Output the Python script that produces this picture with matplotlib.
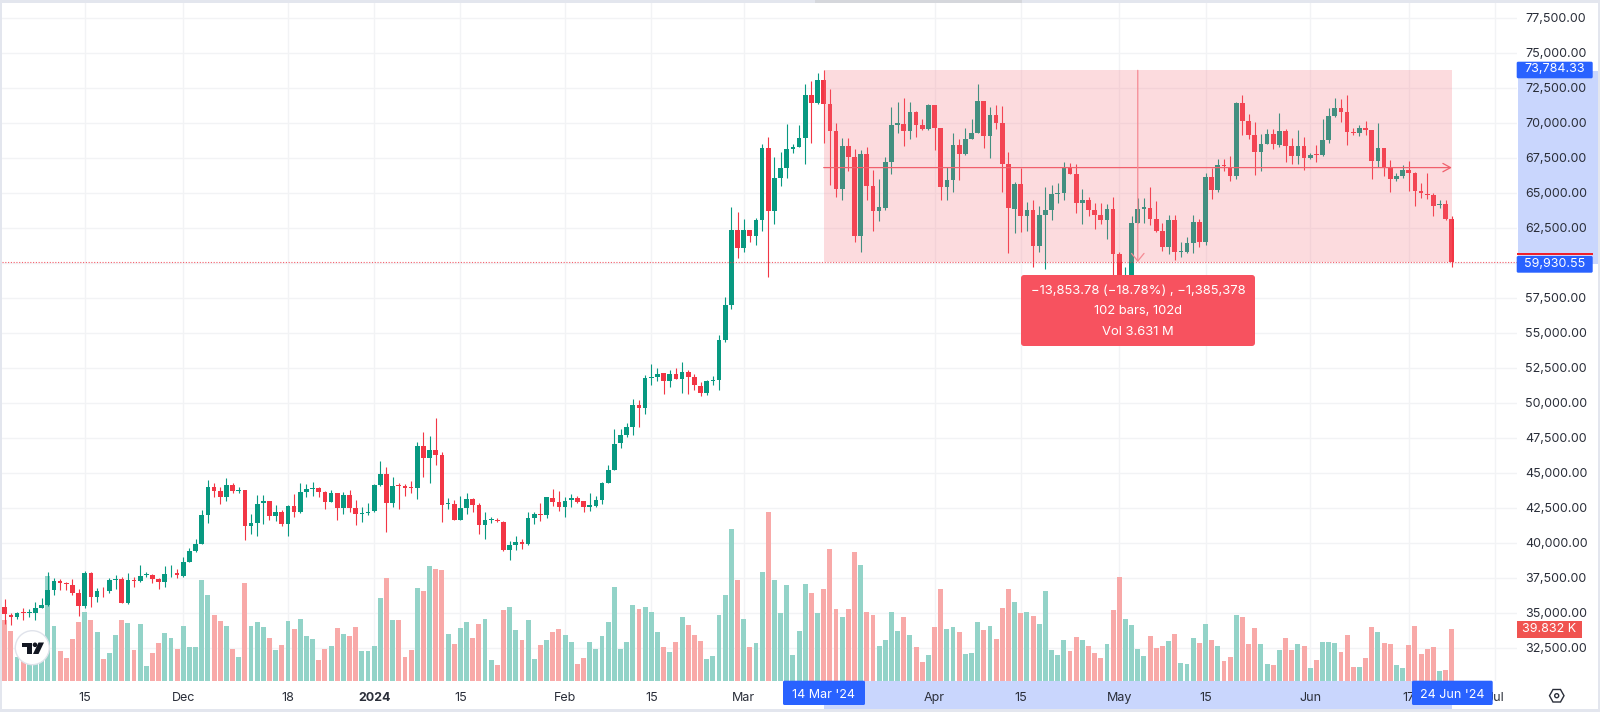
import matplotlib
matplotlib.use('Agg')
import matplotlib.pyplot as plt
from matplotlib.patches import Rectangle, FancyBboxPatch, Circle, Polygon
from matplotlib.transforms import ScaledTranslation
import numpy as np

# daily candles, 2 Nov 2023 - 24 Jun 2024
opens = [35430, 34910, 34720, 35100, 35000, 35030, 35410, 35600, 36690, 37310, 37140, 37050, 36450, 35500, 37880, 36190,
         36690, 36570, 37360, 37450, 35720, 37380, 37310, 37740, 37760, 37450, 37260, 37860, 37880, 37670, 38670, 39430,
         39950, 42000, 44050, 43760, 43290, 44170, 43720, 43790, 41240, 41480, 42860, 43050, 41930, 42240, 41360, 42670,
         42260, 43670, 43910, 43930, 43670, 42980, 43570, 42530, 43450, 42550, 42100, 42150, 42290, 44170, 44960, 42860,
         44170, 44120, 44000, 43930, 46960, 46100, 46670, 46340, 42840, 42840, 41670, 42500, 43150, 42770, 41310, 41670,
         41650, 41550, 39530, 39890, 40100, 39960, 41810, 42100, 42050, 43270, 42930, 42600, 43080, 43220, 43000, 42620,
         42690, 43100, 44340, 45270, 47130, 47740, 48310, 49910, 49690, 51810, 51860, 52140, 51620, 52120, 51740, 52240,
         51860, 51260, 50720, 51600, 51690, 54530, 57030, 62410, 61120, 62390, 61980, 63100, 68240, 63740, 66100, 66810,
         68150, 68310, 68930, 72050, 71430, 73070, 71380, 69480, 65310, 68380, 67620, 61960, 67840, 65500, 63770, 63980,
         67220, 69880, 69980, 69450, 70790, 69880, 69570, 71290, 69640, 65460, 65960, 68480, 67790, 68900, 69340, 71600,
         69100, 70620, 70000, 67100, 63910, 65650, 63390, 63790, 61240, 63480, 63810, 64960, 65000, 66840, 66380, 64290,
         64530, 63790, 63460, 63100, 63860, 60670, 58300, 59100, 62910, 63880, 63980, 63150, 62310, 61170, 63100, 60840,
         60790, 61460, 62930, 61550, 66190, 65220, 67030, 66910, 66260, 71450, 70140, 69170, 67950, 68530, 69240, 68480,
         69430, 68380, 67670, 68380, 67550, 67790, 67740, 68810, 70530, 71100, 70810, 69380, 69290, 69670, 69550, 67290,
         68260, 66840, 66030, 66240, 66670, 66480, 65170, 64980, 64880, 64150, 64240, 63190]
highs = [36000, 35050, 35120, 35380, 35290, 35830, 36070, 37980, 37520, 37430, 37210, 37430, 36720, 38000, 37980, 36790,
         36900, 37500, 37740, 37620, 37860, 37620, 38430, 37980, 37810, 37500, 38380, 38430, 38170, 39000, 39690, 40290,
         42380, 44520, 44290, 44000, 44640, 44330, 44050, 43810, 42100, 43480, 43450, 43050, 42740, 42380, 42720, 43520,
         44290, 44240, 44410, 44000, 43760, 43810, 43620, 43640, 43810, 43100, 42580, 42860, 44220, 45910, 45480, 44720,
         44340, 44240, 44480, 47220, 47980, 47670, 48980, 46500, 43240, 43100, 43390, 43580, 43220, 42860, 42200, 41910,
         41840, 41620, 40170, 40530, 40290, 42270, 42200, 42860, 43340, 43860, 43740, 43290, 43500, 43390, 43050, 43580,
         43390, 44410, 45600, 48190, 48190, 48570, 50310, 50240, 52020, 52810, 52550, 52140, 52380, 52500, 52980, 52380,
         52070, 51550, 51670, 51950, 54870, 57580, 64030, 63670, 63150, 62390, 63240, 68500, 69000, 67620, 67980, 69980,
         68530, 69880, 72810, 73020, 73620, 73784, 72450, 70050, 68930, 68930, 68150, 68100, 68290, 66670, 66030, 67620,
         71140, 71550, 71790, 71550, 70910, 70290, 71380, 71290, 69670, 66910, 69290, 68860, 69640, 70310, 72810, 71600,
         71190, 71310, 71240, 67930, 65840, 66840, 64360, 64530, 64120, 65480, 65600, 65720, 67220, 67190, 67100, 65290,
         64770, 64340, 64340, 64240, 64770, 60840, 59770, 63380, 64650, 64650, 65480, 64460, 62860, 63430, 63480, 61550,
         61910, 63460, 63150, 66480, 66790, 67450, 67430, 67690, 71500, 72000, 70640, 70070, 69240, 69570, 69570, 70720,
         69570, 68930, 69500, 69030, 67860, 68450, 70310, 71070, 71810, 71720, 72000, 69640, 69880, 70190, 69550, 70000,
         68260, 67380, 66480, 67030, 67310, 66550, 65720, 66480, 65050, 64530, 64530, 63380]
lows = [34240, 34170, 34570, 34530, 34720, 34530, 35360, 35530, 36310, 36670, 36670, 36310, 34810, 35380, 35480, 35830,
        36190, 36430, 36720, 35720, 35670, 36900, 37210, 37570, 37190, 36740, 36900, 37570, 37500, 37620, 38640, 39360,
        39930, 41430, 43330, 42810, 43050, 43570, 43570, 40240, 40670, 40550, 41380, 41670, 41620, 41260, 40550, 41860,
        42190, 43310, 43380, 43290, 42480, 42930, 41670, 42070, 42260, 41310, 41550, 42030, 42270, 44120, 40790, 42620,
        42460, 43410, 43580, 43170, 44770, 44340, 45600, 41530, 42480, 41650, 41650, 42100, 42220, 40670, 40290, 41480,
        41530, 39480, 38820, 39530, 39580, 39860, 41410, 41620, 41840, 42690, 42290, 41910, 42600, 42910, 42270, 42290,
        42620, 42840, 44290, 45240, 46840, 47570, 47740, 48310, 49240, 51310, 51620, 50640, 51190, 51720, 50760, 50640,
        50950, 50530, 50600, 51310, 50950, 54400, 56740, 60390, 60790, 61550, 61310, 62310, 59050, 62810, 65550, 66100,
        67860, 68290, 67070, 68620, 71360, 68570, 65600, 64770, 64550, 66600, 61550, 60790, 64530, 62290, 63030, 63810,
        66380, 69290, 68380, 68910, 69030, 69550, 69550, 68100, 64550, 64530, 65070, 65960, 67760, 68860, 69290, 68240,
        67530, 69570, 65100, 60700, 62150, 62270, 62310, 59720, 60840, 59620, 63100, 64290, 64530, 66350, 63620, 62810,
        63390, 62430, 62810, 61770, 58820, 56500, 56900, 58800, 62860, 62860, 62740, 62270, 60910, 60650, 60200, 60480,
        60720, 60770, 61150, 61310, 64600, 65100, 66620, 65880, 66030, 69170, 68860, 66310, 66620, 68500, 68170, 68290,
        67260, 67100, 67120, 66690, 67480, 67260, 67650, 68620, 70430, 70120, 68450, 69190, 69120, 69170, 66050, 66860,
        66240, 65070, 65880, 66070, 65170, 64100, 64670, 64580, 63390, 63980, 63100, 59760]
closes = [34930, 34760, 35030, 35050, 35070, 35410, 35620, 36690, 37310, 37140, 37100, 36450, 35550, 37880, 36190, 36600,
          36640, 37360, 37480, 35740, 37380, 37310, 37690, 37790, 37480, 37260, 37810, 37900, 37710, 38670, 39430, 39950,
          42000, 44050, 43760, 43290, 44170, 43720, 43810, 41240, 41480, 42830, 43030, 41930, 42260, 41360, 42670, 42260,
          43670, 43910, 43950, 43690, 42980, 43570, 42530, 43450, 42530, 42070, 42150, 42270, 44170, 44960, 42860, 44120,
          44120, 43980, 43960, 46960, 46100, 46670, 46310, 42740, 42890, 41670, 42500, 43150, 42740, 41310, 41650, 41740,
          41580, 39530, 39890, 40100, 39980, 41810, 42120, 42050, 43290, 42930, 42600, 43050, 43220, 42960, 42620, 42720,
          43100, 44340, 45270, 47120, 47740, 48310, 49910, 49690, 51810, 51860, 52120, 51620, 52120, 51740, 52240, 51860,
          51290, 50760, 51600, 51690, 54500, 57030, 62410, 61120, 62390, 61980, 63120, 68240, 63740, 66100, 66810, 68150,
          68310, 68930, 72050, 71430, 73070, 71380, 69480, 65310, 68380, 67600, 61960, 67840, 65500, 63770, 64000, 67220,
          69880, 70000, 69450, 70790, 69860, 69570, 71290, 69640, 65460, 65960, 68480, 67790, 68910, 69340, 71600, 69100,
          70620, 70000, 67100, 63930, 65670, 63390, 63790, 61240, 63480, 63810, 64960, 65000, 66840, 66380, 64290, 64530,
          63790, 63460, 63100, 63860, 60670, 58300, 59100, 62910, 63880, 64000, 63150, 62310, 61170, 63100, 60840, 60890,
          61460, 62930, 61550, 66190, 65240, 67030, 66950, 66260, 71450, 70140, 69170, 67950, 68530, 69260, 68500, 69450,
          68380, 67670, 68380, 67550, 67740, 67740, 68810, 70530, 71100, 70810, 69360, 69340, 69670, 69530, 67290, 68260,
          66840, 66030, 66240, 66670, 66480, 65170, 65000, 64880, 64120, 64270, 63150, 60090]
# volume in thousands
volumes = [47.2, 38.7, 18.1, 18.1, 16.8, 18.1, 18.1, 81.3, 42.6, 22.7, 17.5, 32.3, 45.2, 52.9, 47.2, 37.9, 17.0, 21.2,
           35.6, 47.2, 44.9, 23.5, 44.1, 11.4, 21.2, 29.4, 36.9, 32.8, 24.3, 42.6, 26.3, 26.3, 77.9, 66.6, 50.6, 46.4,
           42.3, 24.8, 18.6, 75.6, 42.3, 45.4, 41.5, 33.3, 24.0, 27.6, 46.2, 40.2, 48.2, 34.3, 32.3, 16.3, 24.8, 26.6,
           40.5, 35.9, 34.6, 41.8, 22.7, 23.2, 26.6, 64.2, 79.7, 47.2, 47.2, 18.1, 23.5, 72.2, 69.4, 89.3, 86.9, 85.7,
           36.1, 28.4, 40.5, 45.2, 33.3, 43.9, 48.2, 16.0, 12.1, 54.7, 57.3, 39.2, 31.5, 47.0, 16.5, 27.6, 31.5, 37.4,
           39.7, 35.1, 29.7, 12.6, 17.5, 29.7, 24.8, 34.3, 45.2, 73.0, 24.8, 29.9, 58.6, 55.5, 56.8, 53.4, 37.9, 26.1,
           22.2, 29.7, 49.3, 43.1, 35.1, 30.7, 16.8, 18.8, 51.1, 66.3, 117.4, 77.9, 47.7, 25.8, 29.2, 84.1, 131.1, 77.9,
           52.4, 73.8, 19.9, 38.4, 74.6, 68.1, 52.4, 71.2, 102.2, 55.5, 49.3, 55.5, 100.1, 89.5, 53.1, 51.1, 26.6, 31.5,
           53.1, 38.4, 49.0, 35.6, 25.8, 14.2, 19.9, 41.5, 71.2, 40.0, 41.5, 37.9, 20.6, 21.7, 45.4, 39.2, 42.1, 32.0,
           56.0, 71.0, 60.9, 52.4, 53.1, 50.3, 43.6, 69.4, 23.5, 19.9, 31.5, 23.0, 33.8, 31.5, 27.1, 21.2, 17.3, 28.4,
           54.7, 80.2, 47.7, 43.3, 24.5, 18.8, 34.8, 25.5, 26.6, 30.7, 36.1, 13.7, 13.2, 32.8, 29.2, 43.6, 31.5, 26.8,
           15.2, 18.6, 50.8, 49.5, 28.1, 40.5, 28.4, 12.9, 12.1, 23.5, 32.8, 23.5, 28.4, 27.1, 9.5, 15.7, 29.7, 29.7,
           29.2, 22.2, 35.6, 10.3, 10.3, 17.5, 41.5, 37.4, 29.4, 28.6, 11.9, 9.8, 27.6, 42.3, 20.6, 24.5, 26.1, 7.7,
           8.5, 39.832]

# ticks
price_ticks = np.arange(32500, 77501, 2500)
# 60,000 sits behind the last price label in the original
price_labels = ['' if p == 60000 else '{:,.2f}'.format(p) for p in price_ticks]
date_ticks = [13, 29, 46, 60, 74, 91, 105, 120, 151, 165, 181, 195, 212, 228, 242]
date_labels = ['15', 'Dec', '18', '2024', '15', 'Feb', '15', 'Mar', 'Apr', '15', 'May', '15', 'Jun', '17', 'Jul']

# long position drawing
range_start = 133
range_end = 235
range_high = 73784.33
range_low = 60090
range_mid = 66836
cross_bar = 184

GREEN = '#089981'
RED = '#F23645'
VOL_GREEN = '#93D3C8'
VOL_RED = '#F8A9A8'
BLUE = '#2962FF'
BAND = '#C9D6FD'
TEXT = '#2A2E39'
FONT = 'Inter'
AXIS_SIZE = 9.0

plt.rcParams['font.family'] = [FONT, 'DejaVu Sans']

fig = plt.figure(figsize=(16, 7.12), dpi=100, facecolor='white')
W, H = 1600.0, 712.0
left, right, top, bottom = 2.0, 1517.0, 3.0, 680.7
rect = [left / W, 1 - bottom / H, (right - left) / W, (bottom - top) / H]
xlim = ((left - 4.7) / 6.158, (right - 4.7) / 6.158)
ylim = (77500 - (bottom - 18.3) / 0.014, 77500 - (top - 18.3) / 0.014)

x = np.arange(len(opens))
opens = np.array(opens, dtype=float)
highs = np.array(highs, dtype=float)
lows = np.array(lows, dtype=float)
closes = np.array(closes, dtype=float)
up = closes >= opens
colors = np.where(up, GREEN, RED)

# layer under everything, for the selected range bands on both axes
back = fig.add_axes([0, 0, 1, 1], zorder=0)
back.set_xlim(0, W)
back.set_ylim(H, 0)
back.axis('off')
back.add_patch(Rectangle((1518, 71), 80, 193, facecolor=BAND, linewidth=0))
back.add_patch(Rectangle((823.5, 681), 628.5, 28, facecolor=BAND, linewidth=0))

# grid goes under the volume bars
ax_grid = fig.add_axes(rect, zorder=1)
ax_grid.set_xlim(xlim)
ax_grid.set_ylim(ylim)
ax_grid.set_xticks(date_ticks)
ax_grid.set_yticks(price_ticks)
ax_grid.tick_params(length=0, labelbottom=False, labelleft=False)
ax_grid.grid(True, color='#F2F3F5', linewidth=1.0)
for s in ax_grid.spines.values():
    s.set_visible(False)

# volume pane shares the x range with the candles
ax_vol = fig.add_axes(rect, zorder=1.5)
ax_vol.patch.set_visible(False)
ax_vol.bar(x, volumes, width=0.8, color=[VOL_GREEN if u else VOL_RED for u in up], linewidth=0)
ax_vol.set_xlim(xlim)
ax_vol.set_ylim(0, (bottom - top) / 1.29)
ax_vol.set_xticks([])
ax_vol.set_yticks([])
for s in ax_vol.spines.values():
    s.set_visible(False)

ax = fig.add_axes(rect, zorder=2)
ax.patch.set_visible(False)
ax.vlines(x, lows, highs, colors=colors, linewidth=0.8, zorder=3)
ax.bar(x, np.abs(closes - opens), bottom=np.minimum(opens, closes), width=0.76, color=colors, linewidth=0, zorder=3)

# pink range
ax.add_patch(Rectangle((range_start, range_low), range_end - range_start, range_high - range_low,
                       facecolor='#F7737F', alpha=0.25, linewidth=0, zorder=4))
ax.annotate('', xy=(range_end, range_mid), xytext=(range_start, range_mid), zorder=5,
            arrowprops=dict(arrowstyle='->,head_length=0.55,head_width=0.3', color='#F0606C', lw=0.9, shrinkA=0, shrinkB=0))
ax.annotate('', xy=(cross_bar, range_low), xytext=(cross_bar, range_high), zorder=5,
            arrowprops=dict(arrowstyle='->,head_length=0.55,head_width=0.45', color='#F58A93', lw=0.9, shrinkA=0, shrinkB=0))
ax.axhline(range_low, color=RED, linestyle=(0, (1, 1.5)), linewidth=0.8, alpha=0.8, zorder=5)

ax.set_xlim(xlim)
ax.set_ylim(ylim)
ax.yaxis.tick_right()
ax.set_yticks(price_ticks)
ax.set_yticklabels(price_labels)
ax.set_xticks(date_ticks)
ax.set_xticklabels(date_labels)
ax.tick_params(axis='y', length=0, pad=6, labelsize=AXIS_SIZE, labelcolor=TEXT)
ax.tick_params(axis='x', length=0, pad=8, labelsize=AXIS_SIZE, labelcolor=TEXT)
up_1px = ScaledTranslation(0, 1 / 100.0, fig.dpi_scale_trans)
for lab in ax.get_yticklabels():
    lab.set_transform(lab.get_transform() + up_1px)
for lab in ax.get_xticklabels():
    if lab.get_text() == '2024':
        lab.set_fontweight('bold')
for s in ax.spines.values():
    s.set_visible(False)

# overlay in pixel coordinates for the widgets around the chart
ui = fig.add_axes([0, 0, 1, 1], zorder=10)
ui.set_xlim(0, W)
ui.set_ylim(H, 0)
ui.axis('off')


def box(x0, y0, x1, y1, color, z=1, round_px=0):
    if round_px:
        ui.add_patch(FancyBboxPatch((x0, y0), x1 - x0, y1 - y0, boxstyle='round,pad=0,rounding_size=%g' % round_px,
                                    facecolor=color, linewidth=0, zorder=z))
    else:
        ui.add_patch(Rectangle((x0, y0), x1 - x0, y1 - y0, facecolor=color, linewidth=0, zorder=z))


# borders of the screenshot
box(0, 0, W, 2.5, '#E3E6EE')
box(0, 0, 2, H, '#E3E6EE')
box(0, 709, W, H, '#E3E6EE')
box(1598, 0, W, H, '#E3E6EE')
# popup shadow at the top
box(815, 0, 1022, 2.5, '#D5D7DC')

# price and date labels
box(1516.7, 61.7, 1592.7, 78.3, BLUE, z=2, round_px=1.5)
ui.text(1555, 69.5, '73,784.33', color='white', fontsize=AXIS_SIZE, ha='center', va='center', zorder=3)
box(1516.7, 253, 1592.7, 255, '#F0202A', z=2)
box(1516.7, 256, 1592.7, 272.7, BLUE, z=2, round_px=1.5)
ui.text(1555, 264, '59,930.55', color='white', fontsize=AXIS_SIZE, ha='center', va='center', zorder=3)
box(1516.7, 620.7, 1582, 637.7, '#F05350', z=2)
ui.text(1549.5, 629.3, '39.832 K', color='white', fontsize=AXIS_SIZE, ha='center', va='center', zorder=3)
box(783, 680.7, 865, 705, BLUE, z=2, round_px=1.5)
ui.text(824, 695, "14 Mar '24", color='white', fontsize=AXIS_SIZE, ha='center', va='center', zorder=3)
box(1412, 680.7, 1492.7, 705, BLUE, z=2, round_px=1.5)
ui.text(1452, 695, "24 Jun '24", color='white', fontsize=AXIS_SIZE, ha='center', va='center', zorder=3)

# measure tooltip
box(1021, 275, 1255, 346, '#F7525F', z=2, round_px=3)
ui.text(1138, 290.7, '\u221213,853.78 (\u221218.78%) , \u22121,385,378', color='white', fontsize=9.35, ha='center', va='center', zorder=3)
ui.text(1138, 310.7, '102 bars, 102d', color='white', fontsize=9.35, ha='center', va='center', zorder=3)
ui.text(1138, 331.7, 'Vol 3.631 M', color='white', fontsize=9.35, ha='center', va='center', zorder=3)

# logo
ui.add_patch(Circle((32.3, 647.7), 17, facecolor='white', edgecolor='#E0E3EB', linewidth=1, zorder=3))
ui.add_patch(Polygon([(21.5, 642.5), (32, 642.5), (32, 654), (27, 654), (27, 647), (21.5, 647)], facecolor='#131722', linewidth=0, zorder=4))
ui.add_patch(Circle((35, 644.8), 2.3, facecolor='#131722', linewidth=0, zorder=4))
ui.add_patch(Polygon([(38.5, 642.5), (44, 642.5), (38.5, 654), (33, 654)], facecolor='#131722', linewidth=0, zorder=4))

# settings icon
ui.add_patch(Polygon([(1549.5, 695.7), (1553, 689.5), (1560.5, 689.5), (1564, 695.7), (1560.5, 702), (1553, 702)],
                     facecolor='none', edgecolor=TEXT, linewidth=1, zorder=3))
ui.add_patch(Circle((1556.7, 695.7), 2, facecolor='none', edgecolor=TEXT, linewidth=1, zorder=3))

fig.savefig('out.png', dpi=100)
